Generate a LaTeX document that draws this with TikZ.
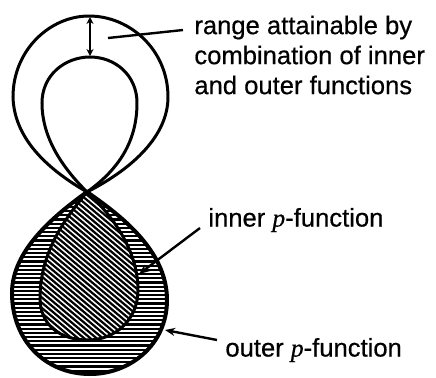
\documentclass[tikz,border=0pt]{standalone}
\usepackage{fontspec}
\setmainfont{Liberation Sans}
\newfontfamily\lblfont{Liberation Sans}[FakeBold=0.5]
\newfontfamily\pfont{Liberation Serif}[FakeBold=0.5]
\usetikzlibrary{arrows.meta}
\begin{document}
\begin{tikzpicture}[x=0.5pt,y=-0.5pt,
  curve/.style={line width=1.5pt},
  thickcurve/.style={line width=2pt},
  leader/.style={line width=1.2pt},
  hatch/.style={line width=1.1pt},
  lbl/.style={inner sep=0pt, anchor=west, align=left, font=\lblfont\fontsize{12.8}{15}\selectfont},
  tip/.style={-{Stealth[length=5pt,width=4pt]}},
  dtip/.style={{Stealth[length=3.5pt,width=3.5pt]}-{Stealth[length=3.5pt,width=3.5pt]}}]
\useasboundingbox (0,0) rectangle (436,377);
\def\outerlow{(87,192) .. controls (120,215) and (167,250) .. (167,300) .. controls (167,345) and (130,374) .. (90,374) .. controls (45,374) and (12,340) .. (12,293) .. controls (12,250) and (55,215) .. (87,192) -- cycle}
\def\innerlow{(87,192) .. controls (112,215) and (138,250) .. (138,290) .. controls (138,320) and (115,340) .. (88,340) .. controls (60,340) and (40,325) .. (40,298) .. controls (40,250) and (68,215) .. (87,192) -- cycle}
% hatching of the outer p-function
\begin{scope}
  \clip \outerlow;
  \foreach \y in {190,194.2,...,378} \draw[hatch] (0,\y) -- (200,\y);
\end{scope}
% inner p-function
\fill[white] \innerlow;
\begin{scope}
  \clip \innerlow;
  \foreach \x in {-160,-153.8,...,150} \draw[hatch] (\x,180) -- (\x+200,180+168);
\end{scope}
\draw[thickcurve] \outerlow;
\draw[curve] \innerlow;
% upper loops
\draw[curve] (87,192) .. controls (42,166) and (14,135) .. (13,97) .. controls (13,50) and (50,16) .. (89,16) .. controls (130,16) and (168,50) .. (168,97) .. controls (168,135) and (134,168) .. (87,192);
\draw[curve] (87,192) .. controls (65,170) and (42,140) .. (42,103) .. controls (42,75) and (65,57) .. (90,57) .. controls (115,57) and (137,75) .. (137,103) .. controls (137,145) and (115,172) .. (87,192);
% double arrow
\coordinate (otop) at (90,17);
\coordinate (itop) at (90,56);
\draw[leader,dtip] (otop) -- (itop);
% labels
\node[lbl] (rng) at (194,55) {range attainable by\\combination of inner\\and outer functions};
\node[lbl] (inn) at (208,220) {inner {\pfont\itshape p}-function};
\node[lbl] (out) at (225,350) {outer {\pfont\itshape p}-function};
% leaders
\coordinate (r1) at (108,38);
\coordinate (r2) at (183,30);
\draw[leader] (r1) -- (r2);
\coordinate (i1) at (200,228);
\coordinate (itip) at (139,274);
\draw[leader,tip] (i1) -- (itip);
\coordinate (o1) at (217,340);
\coordinate (otip) at (165,330);
\draw[leader,tip] (o1) -- (otip);
\end{tikzpicture}
\end{document}
